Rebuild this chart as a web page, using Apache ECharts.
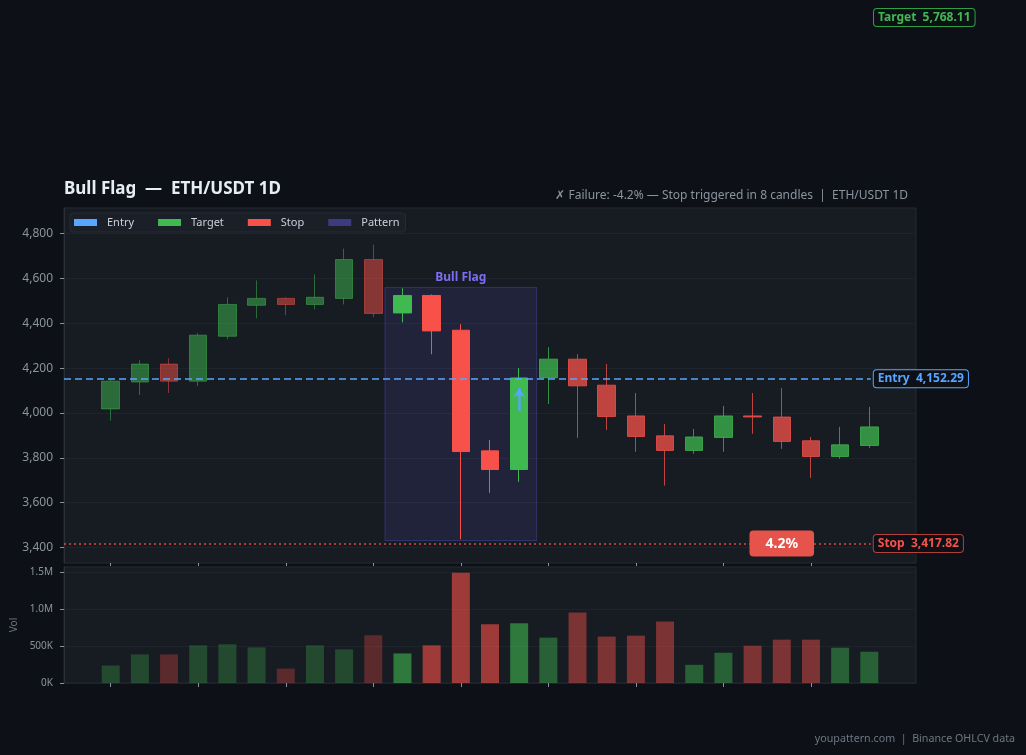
<!DOCTYPE html>
<html><head><meta charset="utf-8">
<script src="https://cdn.jsdelivr.net/npm/echarts@6/dist/echarts.min.js"></script>
<style>html,body{margin:0;padding:0;background:#0d1117;}#c{width:1026px;height:755px;}</style>
</head><body><div id="c"></div>
<script>
// ---- data ----
const opens  = [4018,4138,4218,4142,4342,4480,4511,4484,4511,4684, 4446,4524,4369,3831,3748, 4157,4240,4124,3987,3898,3833,3891,3987,3982,3876,3806,3855];
const closes = [4142,4218,4142,4347,4484,4511,4484,4516,4684,4444, 4524,4366,3828,3748,4156, 4240,4121,3984,3895,3833,3893,3987,3982,3873,3806,3858,3938];
const lows   = [3966,4080,4089,4120,4329,4422,4436,4462,4484,4427, 4404,4262,3436,3644,3693, 4040,3889,3924,3827,3676,3818,3827,3907,3840,3711,3796,3844];
const highs  = [4147,4236,4244,4356,4516,4591,4516,4618,4733,4751, 4556,4529,4396,3880,4200, 4293,4262,4218,4089,3951,3929,4031,4089,4111,3893,3938,4027];
const volumes = [236e3,386e3,386e3,508e3,522e3,481e3,195e3,508e3,454e3,644e3, 399e3,508e3,1488e3,794e3,805e3, 612e3,952e3,626e3,639e3,830e3,245e3,408e3,503e3,585e3,585e3,476e3,422e3];
const patternStart = 10, patternEnd = 14;
const patternLow = 3431, patternHigh = 4560;
const entryPrice = 4152.29, targetPrice = 5768.11, stopPrice = 3417.82;
const failurePct = '4.2%';
const yTicks = [3400,3600,3800,4000,4200,4400,4600,4800];
const volTicks = [0,500000,1000000,1500000];
const xTicks = [0,3,6,9,12,15,18,21,24];

// ---- styling ----
const GREEN = '#3fb950', RED = '#f85149', BLUE = '#58a6ff', PURPLE = '99,102,241';
function rgba(hex, a){const n=parseInt(hex.slice(1),16);return `rgba(${n>>16},${(n>>8)&255},${n&255},${a})`;}
function phaseAlpha(i){ return i < patternStart ? 0.5 : (i <= patternEnd ? 1 : 0.75); }
const fmt = v => v.toLocaleString('en-US',{minimumFractionDigits:2,maximumFractionDigits:2});

const candleData = opens.map((o,i)=>{
  const c = rgba(closes[i]>=o ? GREEN : RED, phaseAlpha(i));
  return {value:[i,o,closes[i],lows[i],highs[i]],
    itemStyle:{color:c,color0:c,borderColor:c,borderColor0:c,borderWidth:1}};
});
const volData = volumes.map((v,i)=>{
  const a = phaseAlpha(i)*0.6;
  return {value:[i,v], itemStyle:{color: rgba(closes[i]>=opens[i]?GREEN:RED, a)}};
});
const xMin=-1.6, xMax=27.6, lineEnd=26.05;

const chart = echarts.init(document.getElementById('c'), null, {renderer:'canvas'});
const font = 'Noto Sans';
const lbl = (c,b)=>({show:true, position:'end', distance:3, color:c, fontWeight:'bold', fontSize:12, fontFamily:font,
  backgroundColor:'#0d1117', borderColor:b||c, borderWidth:1, borderRadius:3, padding:[3,4,2,4]});

chart.setOption({
  animation:false,
  backgroundColor:'#0d1117',
  textStyle:{fontFamily:font},
  title:[
    {text:'Bull Flag  —  ETH/USDT 1D', left:64, top:181, padding:0, textStyle:{color:'#e6edf3', fontSize:17, fontWeight:'bold'}},
    {text:'✗ Failure: -4.2% — Stop triggered in 8 candles  |  ETH/USDT 1D', right:118, top:190, padding:0, textStyle:{color:'#8b949e', fontSize:12, fontWeight:'normal'}},
    {text:'youpattern.com  |  Binance OHLCV data', right:11, top:733, padding:0, textStyle:{color:'#6e7681', fontSize:10.7, fontWeight:'normal'}}
  ],
  legend:{data:['Entry','Target','Stop','Pattern'], left:70, top:213, icon:'rect', itemWidth:23, itemHeight:7, itemGap:24,
    padding:[4,6,4,4], backgroundColor:'#1b1f27', borderColor:'#272c35', borderWidth:1, borderRadius:3,
    textStyle:{color:'#c9d1d9', fontSize:11, padding:[0,0,0,5]}, selectedMode:false},
  grid:[
    {left:64, right:110, top:208, height:355, show:true, backgroundColor:'#171b22', borderColor:'#252a33', borderWidth:1},
    {left:64, right:110, top:567, height:116, show:true, backgroundColor:'#171b22', borderColor:'#252a33', borderWidth:1}
  ],
  xAxis:[
    {type:'value', gridIndex:0, min:xMin, max:xMax, axisLine:{show:false}, splitLine:{show:false},
      axisTick:{show:true, customValues:xTicks, length:3, lineStyle:{color:'#8b949e'}}, axisLabel:{show:false}},
    {type:'value', gridIndex:1, min:xMin, max:xMax, axisLine:{show:false}, splitLine:{show:false},
      axisTick:{show:true, customValues:xTicks, length:4, lineStyle:{color:'#8b949e'}}, axisLabel:{show:false}}
  ],
  yAxis:[
    {type:'value', gridIndex:0, min:3331, max:4914, minInterval:200, maxInterval:200,
      axisLine:{show:true, onZero:false, lineStyle:{color:'#2a2f38'}},
      axisTick:{show:true, customValues:yTicks, length:4, lineStyle:{color:'#8b949e'}},
      axisLabel:{customValues:yTicks, color:'#8b949e', fontSize:12, margin:11, formatter:v=>v.toLocaleString('en-US')},
      splitLine:{show:true, lineStyle:{color:'#1f242c'}}},
    {type:'value', gridIndex:1, min:0, max:1565000, minInterval:500000, maxInterval:500000,
      name:'Vol', nameLocation:'middle', nameGap:44, nameRotate:90, nameTextStyle:{color:'#6e7681', fontSize:10},
      axisLine:{show:true, onZero:false, lineStyle:{color:'#2a2f38'}},
      axisTick:{show:true, customValues:volTicks, length:4, lineStyle:{color:'#8b949e'}},
      axisLabel:{customValues:volTicks, color:'#8b949e', fontSize:10, margin:11,
        formatter:v=> v>=1e6 ? (v/1e6).toFixed(1)+'M' : (v/1e3)+'K'},
      splitLine:{show:true, lineStyle:{color:'#1f242c'}}}
  ],
  series:[
    {name:'Pattern', type:'line', xAxisIndex:0, yAxisIndex:0, data:[], color:'#3d3b80', itemStyle:{color:'#3d3b80'},
      markArea:{silent:true, itemStyle:{color:`rgba(${PURPLE},0.12)`, borderColor:`rgba(${PURPLE},0.3)`, borderWidth:1},
        label:{show:true, position:'top', distance:3, color:'#7b6ef2', fontWeight:'bold', fontSize:12, fontFamily:font},
        data:[[{name:'Bull Flag', coord:[patternStart-0.6, patternLow]},{coord:[patternEnd+0.6, patternHigh]}]]}},
    {name:'ETH', type:'candlestick', xAxisIndex:0, yAxisIndex:0, barWidth:18, data:candleData, encode:{x:0,y:[1,2,3,4]}},
    {name:'Entry', type:'line', xAxisIndex:0, yAxisIndex:0, data:[], color:BLUE, itemStyle:{color:BLUE},
      markLine:{silent:true, symbol:'none', lineStyle:{color:BLUE, type:[7,4], width:1.5},
        label:lbl(BLUE), data:[[{coord:[xMin,entryPrice], label:{formatter:'Entry  '+fmt(entryPrice)}},{coord:[lineEnd,entryPrice]}]]}},
    {name:'Target', type:'line', xAxisIndex:0, yAxisIndex:0, data:[], color:GREEN, itemStyle:{color:GREEN}},
    {name:'Stop', type:'line', xAxisIndex:0, yAxisIndex:0, data:[], color:RED, itemStyle:{color:RED},
      markLine:{silent:true, symbol:'none', lineStyle:{color:rgba(RED,0.85), type:[2,3], width:1.5},
        label:lbl(RED, rgba(RED,0.7)), data:[[{coord:[xMin,stopPrice], label:{formatter:'Stop  '+fmt(stopPrice)}},{coord:[lineEnd,stopPrice]}]]},
      markPoint:{silent:true, data:[{coord:[23, stopPrice], symbol:'rect', symbolSize:1,
        itemStyle:{color:'rgba(0,0,0,0)'}, label:{show:true, position:'inside', formatter:failurePct, color:'#ffffff', fontWeight:'bold', fontSize:14, fontFamily:font,
          backgroundColor:'#e5534b', borderRadius:4, padding:[5,16,5,16], lineHeight:16}}]}},
    {name:'arrow', type:'line', xAxisIndex:0, yAxisIndex:0, data:[],
      markLine:{silent:true, symbol:['none','arrow'], symbolSize:9, lineStyle:{color:BLUE, type:'solid', width:2.5, opacity:0.9},
        label:{show:false}, data:[[{coord:[patternEnd,4009]},{coord:[patternEnd,4111]}]]}},
    {name:'Volume', type:'bar', xAxisIndex:1, yAxisIndex:1, barWidth:18, data:volData, encode:{x:0,y:1}}
  ],
  graphic:[
    {type:'text', left:873, top:8, style:{text:'Target  '+fmt(targetPrice), fill:GREEN, font:'bold 12px "Noto Sans"',
      backgroundColor:'#0d1117', borderColor:'#2ea043', borderWidth:1, borderRadius:3, padding:[3,4,2,4]}}
  ]
});
</script></body></html>
